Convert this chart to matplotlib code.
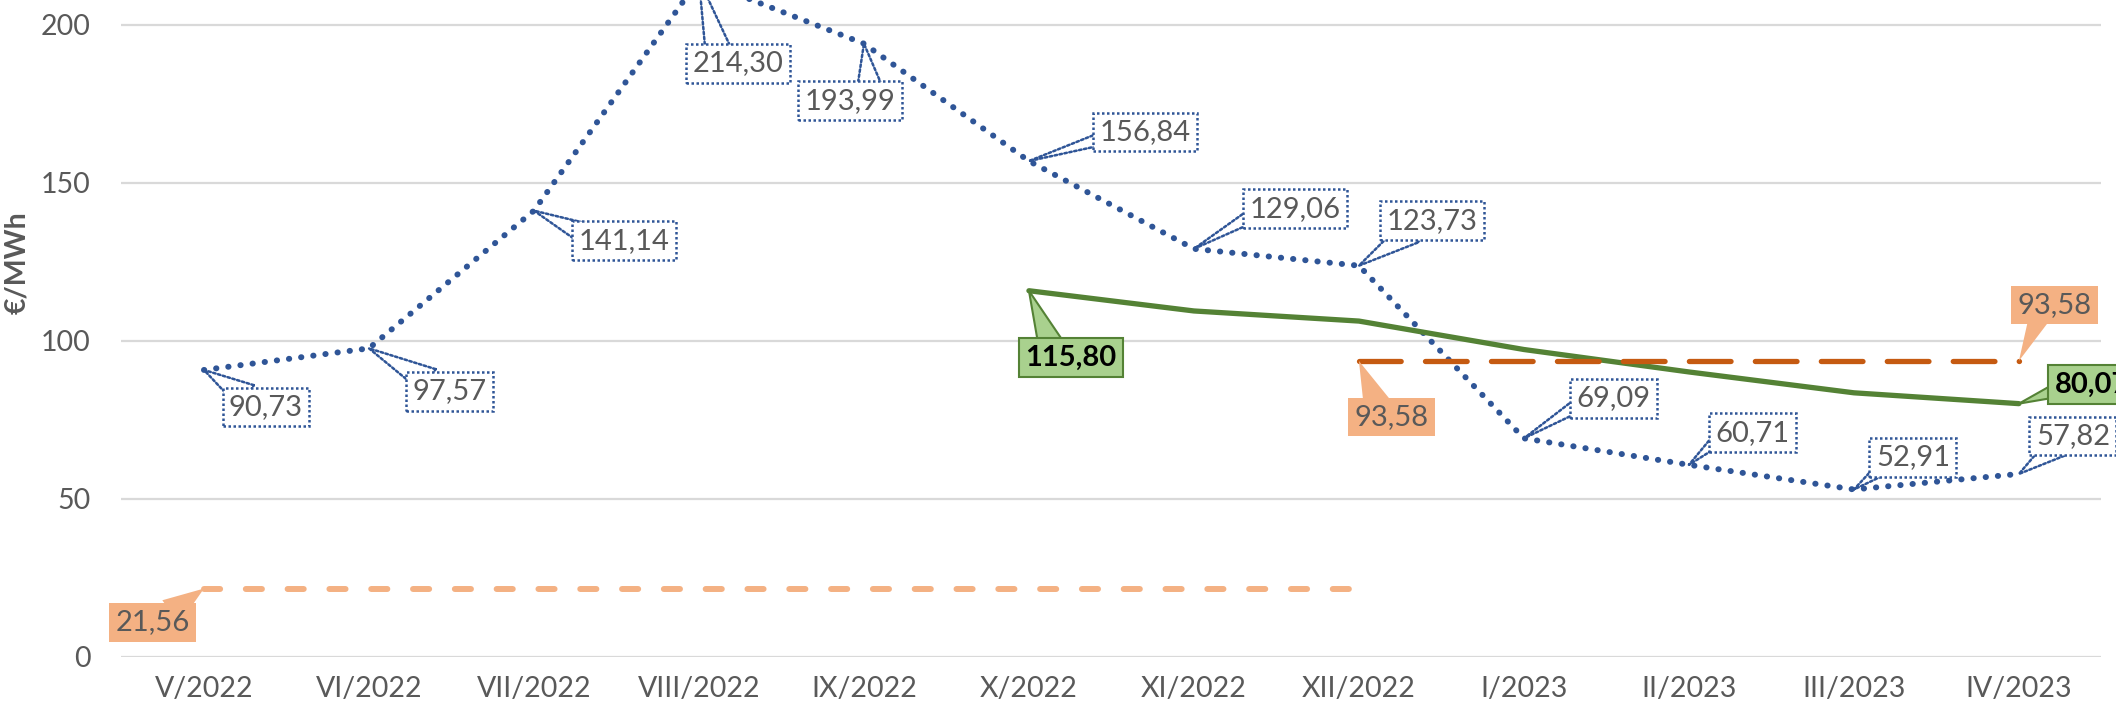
import matplotlib
matplotlib.use("Agg")
import matplotlib.pyplot as plt

plt.rcParams['font.family'] = ['Lato', 'DejaVu Sans']

# data
months = ["V/2022", "VI/2022", "VII/2022", "VIII/2022", "IX/2022", "X/2022",
          "XI/2022", "XII/2022", "I/2023", "II/2023", "III/2023", "IV/2023"]
spot_prices = [90.73, 97.57, 141.14, 214.30, 193.99, 156.84,
               129.06, 123.73, 69.09, 60.71, 52.91, 57.82]
green_months = months[5:]
green_values = [115.80, 109.4, 106.2, 97.2, 90.1, 83.5, 80.07]
tariff_2022_months = months[:8]
tariff_2022 = [21.56] * 8
tariff_2023_months = months[7:]
tariff_2023 = [93.58] * 5

GRAY = '#595959'
BLUE = '#2F5597'
GREEN = '#548235'
DKORANGE = '#C55A11'
LTORANGE = '#F4B183'

fig = plt.figure(figsize=(21.16, 7.11), dpi=100)
ax = fig.add_axes([0.0574, 0.0764, 0.9357, 0.9236])

xi = {m: i for i, m in enumerate(months)}

def xs(labels):
    return [xi[m] for m in labels]

ax.plot(xs(months), spot_prices, color=BLUE, lw=4.3, dashes=(0.05, 2.0),
        dash_capstyle='round', zorder=2)
ax.plot(xs(green_months), green_values, color=GREEN, lw=3.8, zorder=3,
        solid_capstyle='round', solid_joinstyle='round')
ax.plot(xs(tariff_2022_months), tariff_2022, color=LTORANGE, lw=4.3,
        dashes=(2.7, 4.3), dash_capstyle='round', zorder=3)
ax.plot(xs(tariff_2023_months), tariff_2023, color=DKORANGE, lw=3.8,
        dashes=(7.9, 4.6), dash_capstyle='round', zorder=4)


def callout(x, y, text, dx, dy, rel, tw, kind):
    if kind == 'blue':
        fc, ec, ls, lw, col, fw = 'white', BLUE, (0, (1, 1)), 1.8, GRAY, 'normal'
    elif kind == 'orange':
        fc, ec, ls, lw, col, fw = LTORANGE, 'none', '-', 0, GRAY, 'normal'
    else:
        fc, ec, ls, lw, col, fw = '#A9D18E', GREEN, '-', 1.5, 'black', 'bold'
    ax.annotate(text, xy=(x, y), xytext=(dx, dy), textcoords='offset pixels',
                ha='center', va='center', fontsize=21, color=col, fontweight=fw,
                bbox=dict(boxstyle='square,pad=0.22', fc=fc, ec=ec, lw=lw, ls=ls),
                arrowprops=dict(arrowstyle='wedge,tail_width=%.2f,shrink_factor=0.5' % tw,
                                fc=fc, ec=ec, lw=lw, ls=ls, relpos=rel,
                                shrinkA=0, shrinkB=0, patchA=None),
                annotation_clip=False, zorder=6)


blue_offsets = [(62, -37), (81, -43), (90, -30), (39, -84), (-14, -57), (116, 29),
                (101, 40), (73, 45), (90, 40), (64, 32), (59, 32), (54, 38)]
blue_rel = [(0.24, 0.9), (0.22, 0.9), (0.05, 0.8), (0.29, 0.9), (0.72, 0.9), (0.05, 0.27),
            (0.05, 0.28), (0.28, 0.1), (0.05, 0.3), (0.05, 0.3), (0.1, 0.1), (0.29, 0.1)]
blue_tw = [0.92, 0.92, 0.7, 0.92, 0.92, 0.45, 0.48, 0.9, 0.48, 0.45, 0.48, 0.8]

for i, v in enumerate(spot_prices):
    lab = ('%.2f' % v).replace('.', ',')
    callout(i, v, lab, blue_offsets[i][0], blue_offsets[i][1], blue_rel[i], blue_tw[i], 'blue')

callout(xi[tariff_2022_months[0]], tariff_2022[0], ('%.2f' % tariff_2022[0]).replace('.', ','),
        -51, -34, (0.74, 0.9), 1.0, 'orange')
callout(xi[tariff_2023_months[0]], tariff_2023[0], ('%.2f' % tariff_2023[0]).replace('.', ','),
        33, -56, (0.31, 0.9), 1.0, 'orange')
callout(xi[tariff_2023_months[-1]], tariff_2023[-1], ('%.2f' % tariff_2023[-1]).replace('.', ','),
        36, 56, (0.3, 0.1), 0.75, 'orange')
callout(xi[green_months[0]], green_values[0], ('%.2f' % green_values[0]).replace('.', ','),
        42, -67, (0.29, 0.9), 0.9, 'green')
callout(xi[green_months[-1]], green_values[-1], ('%.2f' % green_values[-1]).replace('.', ','),
        73, 19, (0.05, 0.31), 0.5, 'green')

ax.set_xlim(-0.5, 11.5)
ax.set_ylim(0, 207.8)
ax.set_yticks([0, 50, 100, 150, 200])
ax.set_xticks(range(len(months)))
ax.set_xticklabels(months)
ax.grid(axis='y', color='#D9D9D9', lw=1.6, zorder=0)
ax.set_axisbelow(True)
for s in ax.spines.values():
    s.set_visible(False)
ax.tick_params(axis='both', length=0, labelsize=20.5, labelcolor=GRAY)
ax.tick_params(axis='y', pad=22)
ax.tick_params(axis='x', pad=14)
ax.set_ylabel("€/MWh", fontsize=20.5, fontweight='bold', color=GRAY)
ax.yaxis.set_label_coords(-0.046, 0.6)

fig.savefig("out.png", dpi=100)
